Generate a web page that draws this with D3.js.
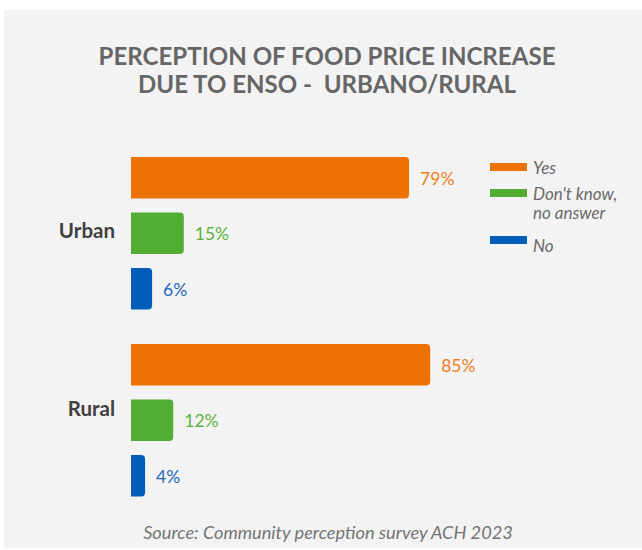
<!DOCTYPE html>
<html>
<head>
<meta charset="utf-8">
<script src="https://cdn.jsdelivr.net/npm/d3@7"></script>
<style>
  html, body { margin: 0; padding: 0; background: #ffffff; }
  svg { display: block; font-family: Lato, "Open Sans", sans-serif; }
</style>
</head>
<body>
<svg id="chart" width="642" height="550"></svg>
<script>
// Survey groups and answer categories
const groups = ["Urban", "Rural"];
const answers = ["Yes", "Don't know, no answer", "No"];
// Share of respondents (%) per group, in the order of `answers`
const urbanValues = [79, 15, 6];
const ruralValues = [85, 12, 4];
// Legend text lines per answer
const legendLines = [["Yes"], ["Don't know,", "no answer"], ["No"]];
const titleLines = ["PERCEPTION OF FOOD PRICE INCREASE", "DUE TO ENSO -  URBANO/RURAL"];
const sourceText = "Source: Community perception survey ACH 2023";

const valuesByGroup = { Urban: urbanValues, Rural: ruralValues };
const colors = d3.scaleOrdinal().domain(answers).range(["#ee7203", "#52ae32", "#005eb8"]);
const labelColors = d3.scaleOrdinal().domain(answers).range(["#f07d1c", "#5cb23e", "#2169bd"]);

const svg = d3.select("#chart");

// Grey panel
svg.append("rect").attr("x", 4).attr("y", 10).attr("width", 638).attr("height", 538).attr("fill", "#f3f3f3");

// Title (whitespace kept so the double space survives)
const title = svg.append("text").attr("text-anchor", "middle").attr("fill", "#666666")
  .attr("font-weight", 700).attr("font-size", 25)
  .style("white-space", "pre").attr("xml:space", "preserve");
const titleWidths = [457, 378];
titleLines.forEach((t, i) => {
  title.append("tspan").attr("x", 327).attr("y", 65 + i * 28)
    .attr("textLength", titleWidths[i]).attr("lengthAdjust", "spacingAndGlyphs")
    .text(t);
});

// Scales
const x = d3.scaleLinear().domain([0, 100]).range([131, 483]);
const y0 = d3.scaleBand().domain(groups).range([157, 496.5]).paddingInner(0.1845).paddingOuter(0);
const y1 = d3.scaleBand().domain(answers).range([0, y0.bandwidth()]).paddingInner(0.2523).paddingOuter(0);

// Bar path with rounded right-hand corners
function barPath(x0, x1, yTop, h, r) {
  r = Math.min(r, (x1 - x0) / 2, h / 2);
  return `M${x0},${yTop}H${x1 - r}Q${x1},${yTop} ${x1},${yTop + r}V${yTop + h - r}Q${x1},${yTop + h} ${x1 - r},${yTop + h}H${x0}Z`;
}

const g = svg.selectAll("g.group").data(groups).join("g")
  .attr("class", "group")
  .attr("transform", d => `translate(0,${y0(d)})`);

g.selectAll("path.bar")
  .data(d => answers.map((a, i) => ({ answer: a, value: valuesByGroup[d][i] })))
  .join("path")
  .attr("class", "bar")
  .attr("d", d => barPath(x(0), x(d.value), y1(d.answer), y1.bandwidth(), 4))
  .attr("fill", d => colors(d.answer));

g.selectAll("text.value")
  .data(d => answers.map((a, i) => ({ answer: a, value: valuesByGroup[d][i] })))
  .join("text")
  .attr("class", "value")
  .attr("x", d => x(d.value) + 11)
  .attr("y", d => y1(d.answer) + y1.bandwidth() / 2)
  .attr("dy", "0.4em")
  .attr("font-size", 17.5)
  .attr("fill", d => labelColors(d.answer))
  .text(d => d.value + "%");

// Group labels
g.append("text")
  .attr("x", 115)
  .attr("y", (d, i) => y0.bandwidth() / 2 + (i === 0 ? 5 : -4))
  .attr("text-anchor", "end")
  .attr("font-size", 20.5)
  .attr("font-weight", 700)
  .attr("fill", "#404040")
  .text(d => d);

// Legend
const legendY = [163, 189, 236];
const legendTextY = [[174], [200, 219], [252]];
const legend = svg.append("g");
answers.forEach((a, i) => {
  legend.append("rect").attr("x", 490).attr("y", legendY[i]).attr("width", 37).attr("height", 8).attr("fill", colors(a));
  legendLines[i].forEach((line, j) => {
    legend.append("text").attr("x", 533).attr("y", legendTextY[i][j])
      .attr("font-size", 17).attr("font-style", "italic").attr("fill", "#6a6a6a").text(line);
  });
});

// Source note
svg.append("text").attr("x", 328).attr("y", 539).attr("text-anchor", "middle")
  .attr("font-size", 18.2).attr("font-style", "italic").attr("fill", "#747474").text(sourceText);
</script>
</body>
</html>
